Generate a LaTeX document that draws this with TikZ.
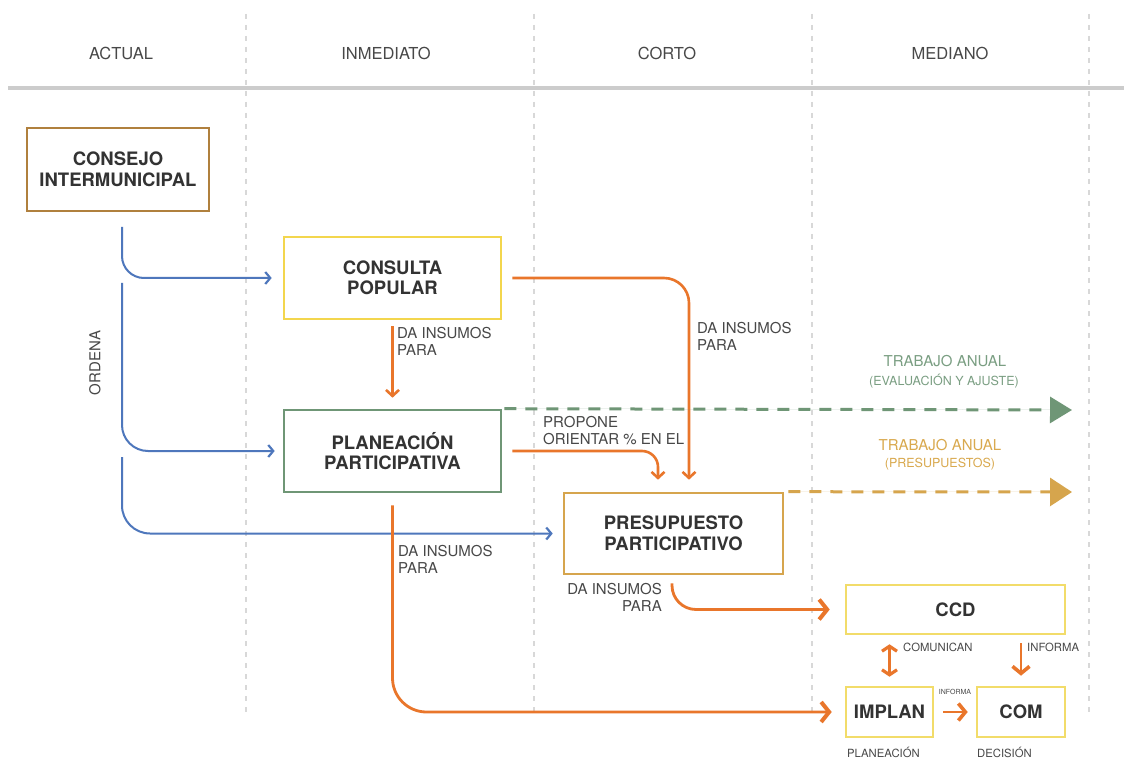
\documentclass[tikz,border=0pt]{standalone}
\usepackage{fontspec}
\setmainfont{TeX Gyre Heros}
\usetikzlibrary{arrows.meta}
\definecolor{brownb}{HTML}{B0803E}
\definecolor{yellowb}{HTML}{F3D64E}
\definecolor{greenb}{HTML}{6F9676}
\definecolor{goldb}{HTML}{D6A54D}
\definecolor{ylwb}{HTML}{F2DC6A}
\definecolor{orng}{HTML}{E9762B}
\definecolor{blu}{HTML}{4E77BC}
\definecolor{greentxt}{HTML}{7A9E82}
\definecolor{goldtxt}{HTML}{D9A94E}
\definecolor{txt}{HTML}{333333}
\definecolor{lbltxt}{HTML}{484848}
\definecolor{gridc}{HTML}{D8D8D8}
\definecolor{rulec}{HTML}{CCCCCC}
\begin{document}
\begin{tikzpicture}[x=1pt,y=-1pt,
  box/.style={draw, line width=2.6pt, align=center, inner sep=0pt, text=txt,
    font=\bfseries\fontsize{18.5}{20.5}\selectfont},
  lbl/.style={inner sep=0pt, text=lbltxt, align=left, font=\fontsize{15}{17.5}\selectfont},
  small/.style={inner sep=0pt, text=lbltxt, font=\fontsize{11.3}{13}\selectfont},
  head/.style={inner sep=0pt, text=lbltxt, font=\fontsize{16.5}{18}\selectfont},
  bluearr/.style={draw=blu, line width=2pt, -{Straight Barb[length=5pt,width=12pt,line width=2.2pt]}},
  orarr/.style={draw=orng, line width=2.6pt, -{Straight Barb[length=6pt,width=13pt,line width=2.6pt]}},
  bigarr/.style={draw=orng, line width=2.8pt, -{Straight Barb[length=8pt,width=20pt,line width=4pt]}},
  grid/.style={draw=gridc, line width=1.6pt, dash pattern=on 5pt off 6pt}
]
\useasboundingbox[fill=white] (0,0) rectangle (1124,759);

% grid and header
\foreach \xx in {246,534,812,1089} \draw[grid] (\xx,14) -- (\xx,712);
\draw[rulec, line width=4pt] (8,88) -- (1124,88);
\node[head] (hA) at (121,53) {ACTUAL};
\node[head] (hI) at (386,53) {INMEDIATO};
\node[head] (hC) at (667,53) {CORTO};
\node[head] (hM) at (950,53) {MEDIANO};

% boxes
\node[box, draw=brownb, minimum width=182, minimum height=83] (consejo) at (118,169.5) {CONSEJO\\INTERMUNICIPAL};
\node[box, draw=yellowb, minimum width=217, minimum height=82] (consulta) at (392.5,278) {CONSULTA\\POPULAR};
\node[box, draw=greenb, minimum width=217, minimum height=82] (plan) at (392.5,451) {PLANEACIÓN\\PARTICIPATIVA};
\node[box, draw=goldb, minimum width=219, minimum height=81] (pres) at (673.5,533.5) {PRESUPUESTO\\PARTICIPATIVO};
\node[box, draw=ylwb, minimum width=219, minimum height=49] (ccd) at (955.5,609.5) {CCD};
\node[box, draw=ylwb, minimum width=87, minimum height=50] (implan) at (889.5,712) {IMPLAN};
\node[box, draw=ylwb, minimum width=88, minimum height=50] (com) at (1021,712) {COM};

% blue connectors
\coordinate (b1) at (122,227);
\coordinate (b2) at (122,283);
\coordinate (b3) at (122,457);
\draw[bluearr, rounded corners=22pt, shorten >=11pt] (b1) |- (consulta.west);
\draw[bluearr, rounded corners=26pt, shorten >=8pt] (b2) |- (plan.west);
\draw[bluearr, rounded corners=28pt, shorten >=10pt] (b3) |- (pres.west);
\node[inner sep=0pt, text=lbltxt, font=\fontsize{15}{17}\selectfont, rotate=90] (ordena) at (95,363) {ORDENA};

% orange connectors
\draw[orarr, shorten <=6pt, shorten >=11pt] (consulta.south) -- (plan.north);
\draw[orarr, rounded corners=25pt, shorten <=10pt, shorten >=12pt] (consulta.east) -| ([xshift=15.5pt]pres.north);
\draw[orarr, rounded corners=16pt, shorten <=10pt, shorten >=12pt] (plan.east) -| ([xshift=-15.5pt]pres.north);
\draw[bigarr, rounded corners=34pt, shorten <=12pt, shorten >=13pt] (plan.south) |- (implan.west);
\draw[bigarr, rounded corners=24pt, shorten <=8pt, shorten >=15pt] ([xshift=-1.5pt]pres.south) |- (ccd.west);
\draw[draw=orng, line width=2.8pt, {Straight Barb[length=5pt,width=15pt,line width=3.2pt]}-{Straight Barb[length=5pt,width=15pt,line width=3.2pt]}, shorten <=9pt, shorten >=9pt] (implan.north |- ccd.south) -- (implan.north);
\draw[draw=orng, line width=2.8pt, -{Straight Barb[length=7pt,width=17pt,line width=3.6pt]}, shorten <=8pt, shorten >=10pt] (com.north |- ccd.south) -- (com.north);
\draw[draw=orng, line width=2.8pt, -{Straight Barb[length=7pt,width=17pt,line width=3.6pt]}, shorten <=9pt, shorten >=8pt] (implan.east) -- (com.west);

% annual work dashed arrows
\coordinate (gtip) at (1072,410);
\coordinate (ytip) at (1072,492);
\draw[draw=greenb, line width=3pt, dash pattern=on 12pt off 9pt, -{Triangle[length=22pt,width=26pt]}, fill=greenb] ([xshift=2pt]plan.north east) -- (gtip);
\draw[draw=goldb, line width=3pt, dash pattern=on 12pt off 9pt, -{Triangle[length=22pt,width=28pt]}, fill=goldb] ([xshift=4pt]pres.north east) -- (ytip);

% labels
\node[lbl, anchor=north west] (l1) at (397,327) {DA INSUMOS\\PARA};
\node[lbl, anchor=north west] (l2) at (697,322) {DA INSUMOS\\PARA};
\node[lbl, anchor=north west] (l3) at (543,416) {PROPONE\\ORIENTAR \% EN EL};
\node[lbl, anchor=north west] (l4) at (398,545) {DA INSUMOS\\PARA};
\node[lbl, anchor=north east, align=right] (l5) at (662,583) {DA INSUMOS\\PARA};

\node[inner sep=0pt, text=greentxt, font=\fontsize{15}{17}\selectfont] (tg1) at (945,361) {TRABAJO ANUAL};
\node[inner sep=0pt, text=greentxt, font=\fontsize{12.5}{14}\selectfont] (tg2) at (944,381) {(EVALUACIÓN Y AJUSTE)};
\node[inner sep=0pt, text=goldtxt, font=\fontsize{15}{17}\selectfont] (ty1) at (940,445) {TRABAJO ANUAL};
\node[inner sep=0pt, text=goldtxt, font=\fontsize{12.5}{14}\selectfont] (ty2) at (940,464) {(PRESUPUESTOS)};

\node[small, anchor=west] (comun) at (903,647) {COMUNICAN};
\node[small, anchor=west] (inf1) at (1027,647) {INFORMA};
\node[inner sep=0pt, text=lbltxt, font=\fontsize{7}{8}\selectfont] (inf2) at (955,692) {INFORMA};
\node[small, anchor=west] (plab) at (847,752) {PLANEACIÓN};
\node[small, anchor=west] (dlab) at (977,752) {DECISIÓN};
\end{tikzpicture}
\end{document}
